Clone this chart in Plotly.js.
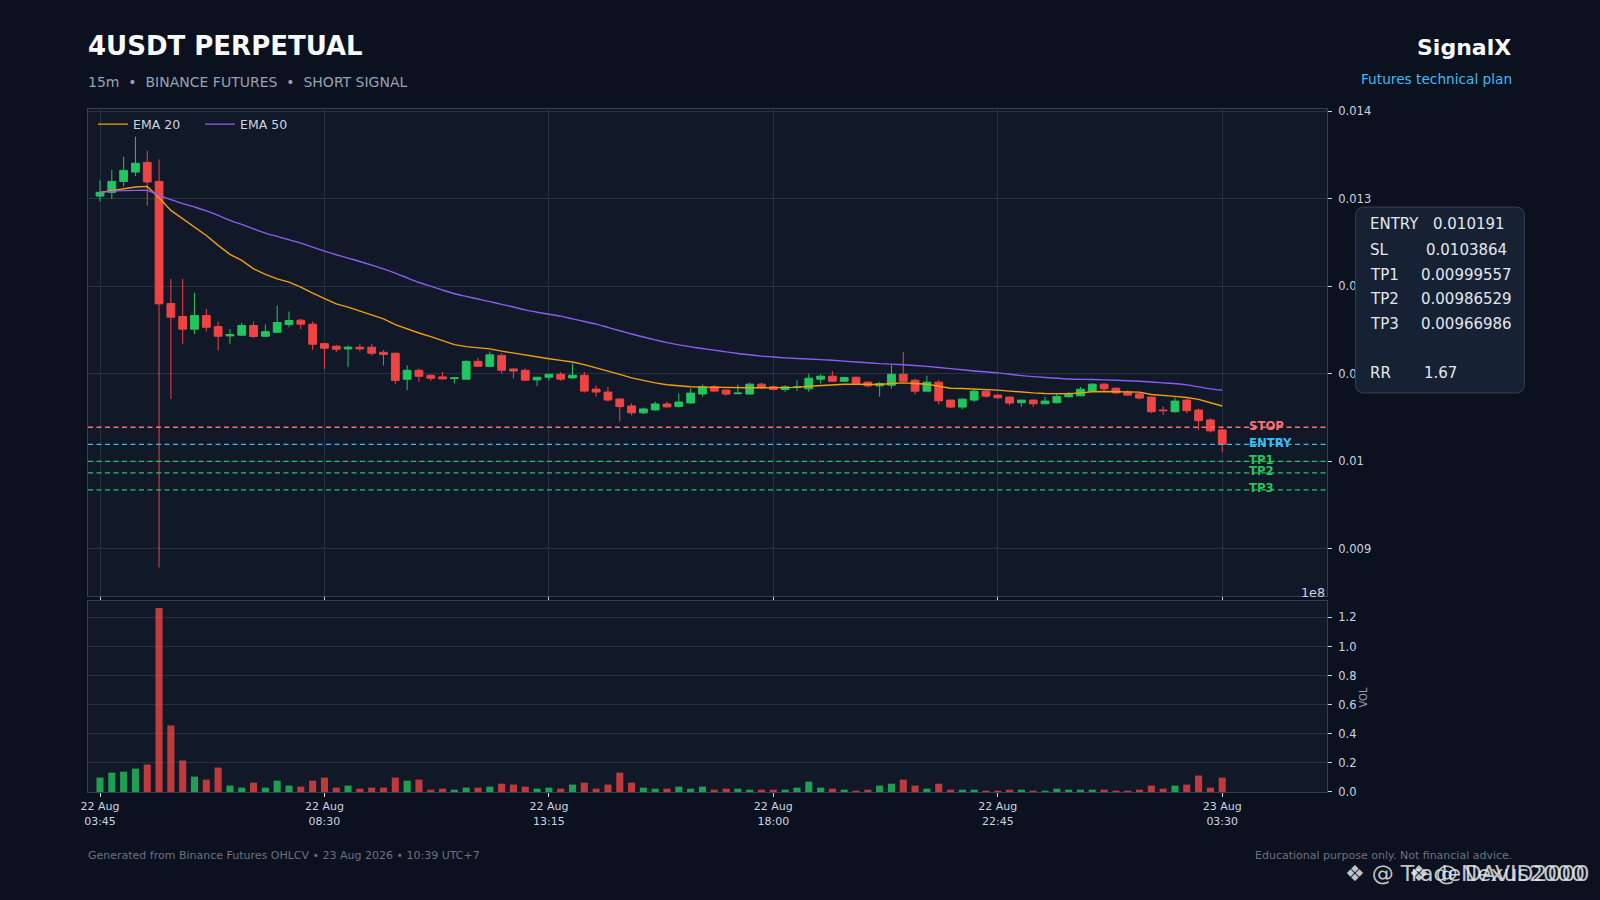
<!DOCTYPE html>
<html>
<head>
<meta charset="utf-8">
<script src="https://cdn.plot.ly/plotly-3.0.1.min.js"></script>
<style>
  html, body { margin: 0; padding: 0; background: #0b111e; }
  #chart { width: 1600px; height: 900px; }
</style>
</head>
<body>
<div id="chart"></div>
<script>
// 15m candles, 22 Aug 03:45 -> 23 Aug 03:30
const startTime = Date.UTC(2026, 7, 22, 3, 45);

const openPrice = [
  0.01303, 0.013073, 0.013198, 0.013305, 0.013416, 0.013198, 0.011802, 0.011653, 0.011508, 0.011664,
  0.011538, 0.011431, 0.011439, 0.01155, 0.011427, 0.011473, 0.011561, 0.011611, 0.011565, 0.011343,
  0.011313, 0.011282, 0.011302, 0.011302, 0.011244, 0.011233, 0.010936, 0.011038, 0.010981, 0.010962,
  0.010943, 0.010936, 0.01114, 0.011083, 0.011208, 0.011053, 0.011038, 0.010928, 0.010958, 0.010992,
  0.010951, 0.010981, 0.010823, 0.010789, 0.010709, 0.01063, 0.010551, 0.010585, 0.010653, 0.010623,
  0.010664, 0.010766, 0.010849, 0.010811, 0.01077, 0.010766, 0.010879, 0.010849, 0.010819, 0.010845,
  0.010826, 0.010936, 0.01097, 0.010913, 0.010958, 0.010902, 0.01086, 0.010867, 0.010992, 0.010924,
  0.010799, 0.010902, 0.010697, 0.010617, 0.010697, 0.010799, 0.010754, 0.010731, 0.010667, 0.010697,
  0.010655, 0.010667, 0.010735, 0.010746, 0.010799, 0.010879, 0.010833, 0.010788, 0.010769, 0.010731,
  0.010583, 0.010564, 0.010697, 0.010583, 0.01047, 0.010356
];
const highPrice = [
  0.01321, 0.01333, 0.01348, 0.01371, 0.01355, 0.01345, 0.012084, 0.012084, 0.011924, 0.01174,
  0.011595, 0.011508, 0.01158, 0.011595, 0.011561, 0.011779, 0.01171, 0.011625, 0.011595, 0.01135,
  0.011328, 0.011321, 0.01134, 0.01134, 0.01127, 0.011244, 0.011094, 0.011057, 0.010992, 0.011019,
  0.010947, 0.011151, 0.011181, 0.011253, 0.011234, 0.011057, 0.011057, 0.010947, 0.010996, 0.011019,
  0.011113, 0.011019, 0.01086, 0.010849, 0.010717, 0.01066, 0.010611, 0.010679, 0.010679, 0.010774,
  0.01083, 0.010875, 0.010868, 0.010823, 0.010875, 0.010898, 0.010898, 0.010868, 0.010868, 0.010924,
  0.011, 0.010992, 0.011027, 0.010962, 0.010966, 0.010913, 0.010905, 0.011102, 0.011246, 0.010943,
  0.010977, 0.010924, 0.010701, 0.010712, 0.010822, 0.010822, 0.010765, 0.010742, 0.010697, 0.010705,
  0.010735, 0.010765, 0.010788, 0.010848, 0.01089, 0.010894, 0.010841, 0.010811, 0.01078, 0.010739,
  0.010625, 0.010727, 0.010712, 0.010602, 0.010489, 0.01037
];
const lowPrice = [
  0.01297, 0.013, 0.01314, 0.01326, 0.01292, 0.008782, 0.01071, 0.01134, 0.011454, 0.01148,
  0.011263, 0.01134, 0.011427, 0.011408, 0.01142, 0.011466, 0.01153, 0.011508, 0.01127, 0.011053,
  0.011244, 0.011073, 0.011256, 0.011206, 0.011092, 0.010882, 0.010811, 0.010906, 0.010917, 0.010932,
  0.010887, 0.010936, 0.011075, 0.011083, 0.011, 0.010943, 0.010917, 0.010857, 0.010921, 0.010917,
  0.010943, 0.010781, 0.010736, 0.010679, 0.010453, 0.010521, 0.010536, 0.010577, 0.010615, 0.010615,
  0.010657, 0.010736, 0.010785, 0.010747, 0.010766, 0.010758, 0.010826, 0.010811, 0.010792, 0.010803,
  0.010792, 0.010886, 0.010913, 0.010905, 0.010886, 0.010841, 0.010735, 0.010829, 0.01091, 0.010761,
  0.010799, 0.010648, 0.010609, 0.010591, 0.010674, 0.010723, 0.010712, 0.010636, 0.010621, 0.010617,
  0.010652, 0.010659, 0.010727, 0.010742, 0.010795, 0.010803, 0.010765, 0.010746, 0.010705, 0.010545,
  0.010527, 0.010553, 0.010545, 0.010356, 0.010326, 0.010103
];
const closePrice = [
  0.013073, 0.013198, 0.013324, 0.013405, 0.013191, 0.011798, 0.011645, 0.011508, 0.011664, 0.01153,
  0.011427, 0.011447, 0.01155, 0.011424, 0.01148, 0.011584, 0.011607, 0.011565, 0.011336, 0.01129,
  0.011279, 0.011302, 0.011282, 0.011233, 0.011218, 0.01092, 0.011038, 0.01097, 0.010947, 0.01094,
  0.010951, 0.01114, 0.011083, 0.011215, 0.011038, 0.01103, 0.010925, 0.010958, 0.010992, 0.010936,
  0.010981, 0.0108, 0.010789, 0.010698, 0.010623, 0.010551, 0.010596, 0.010653, 0.010619, 0.010675,
  0.010777, 0.010849, 0.0108, 0.010766, 0.010777, 0.010879, 0.010838, 0.010819, 0.010849, 0.010848,
  0.010947, 0.01097, 0.010913, 0.010955, 0.01089, 0.01086, 0.010886, 0.010992, 0.010913, 0.010799,
  0.010902, 0.010689, 0.010617, 0.010708, 0.010799, 0.010742, 0.010723, 0.010663, 0.010697, 0.010655,
  0.010686, 0.010739, 0.010758, 0.010822, 0.010879, 0.010826, 0.01078, 0.010754, 0.01072, 0.010564,
  0.010576, 0.010686, 0.010576, 0.010462, 0.010345, 0.010191
];
const volume = [
  9.9e6, 13.3e6, 14.0e6, 16.1e6, 18.9e6, 126.4e6, 45.7e6, 21.6e6, 10.6e6, 8.5e6,
  16.8e6, 4.4e6, 3.0e6, 6.4e6, 3.0e6, 7.8e6, 4.4e6, 3.7e6, 7.8e6, 9.9e6,
  3.0e6, 4.4e6, 2.3e6, 3.0e6, 3.0e6, 9.9e6, 7.8e6, 8.5e6, 1.6e6, 2.3e6,
  1.6e6, 3.0e6, 3.0e6, 3.7e6, 5.7e6, 5.1e6, 3.7e6, 2.3e6, 3.0e6, 2.3e6,
  5.1e6, 6.4e6, 2.3e6, 5.1e6, 13.3e6, 6.4e6, 3.0e6, 2.3e6, 2.3e6, 3.7e6,
  2.3e6, 3.7e6, 1.6e6, 2.3e6, 2.3e6, 1.6e6, 1.6e6, 1.6e6, 1.6e6, 3.0e6,
  7.1e6, 3.0e6, 2.3e6, 1.6e6, 0.9e6, 1.6e6, 4.4e6, 5.7e6, 8.5e6, 4.4e6,
  2.3e6, 5.7e6, 1.6e6, 1.6e6, 1.6e6, 0.9e6, 0.9e6, 1.6e6, 1.6e6, 0.9e6,
  0.9e6, 2.3e6, 1.6e6, 1.6e6, 1.6e6, 1.6e6, 0.9e6, 0.9e6, 1.6e6, 4.4e6,
  2.3e6, 4.4e6, 5.1e6, 11.3e6, 3.0e6, 9.9e6
];
const ema20 = [
  0.013073, 0.013092, 0.013115, 0.013134, 0.013141, 0.01301, 0.012866, 0.012771, 0.012676, 0.01258,
  0.012466, 0.012363, 0.012294, 0.012198, 0.012134, 0.012084, 0.012046, 0.011989, 0.01192, 0.011855,
  0.011798, 0.01176, 0.011714, 0.011676, 0.011626, 0.011561, 0.011508, 0.011464, 0.011423, 0.011377,
  0.011332, 0.011309, 0.011294, 0.011283, 0.011257, 0.011234, 0.011208, 0.011185, 0.01117, 0.011151,
  0.011132, 0.011102, 0.011068, 0.01103, 0.010992, 0.010951, 0.01092, 0.010894, 0.010872, 0.010857,
  0.010849, 0.010845, 0.010842, 0.010838, 0.010838, 0.010838, 0.010838, 0.010838, 0.010838, 0.010843,
  0.010856, 0.010864, 0.010871, 0.010879, 0.010879, 0.010879, 0.010875, 0.010886, 0.010894, 0.010886,
  0.010879, 0.010856, 0.010833, 0.01083, 0.010826, 0.010818, 0.010811, 0.0108, 0.010788, 0.01078,
  0.010773, 0.010769, 0.010769, 0.01078, 0.010792, 0.010795, 0.010795, 0.010792, 0.010788, 0.010761,
  0.010746, 0.010739, 0.010727, 0.010705, 0.010667, 0.010629
];
// EMA 50 read at these bar numbers
const ema50Bar = [
  0, 1, 2, 3, 4, 5, 6, 7, 8, 9, 10, 11, 12, 13, 14, 15, 16, 17, 18, 19,
  20, 21, 22, 23, 24, 25, 26, 27, 28, 29, 30, 31, 32, 33, 34, 35, 36, 37, 38, 39,
  40, 41, 42, 43, 44, 45, 46, 47, 48, 49, 50, 51, 52, 53, 54, 55, 56, 57, 58,
  60, 62, 64, 66, 68, 70, 72, 74, 76, 78, 80, 82, 84, 86, 88, 90, 92, 94, 95
];
const ema50 = [
  0.013073, 0.013084, 0.013092, 0.013095, 0.013095, 0.013038, 0.012989, 0.012943, 0.012905, 0.01286,
  0.01281, 0.012753, 0.012706, 0.012656, 0.012607, 0.012569, 0.012531, 0.012492, 0.012447, 0.012401,
  0.012359, 0.012321, 0.012282, 0.012241, 0.012198, 0.012149, 0.012095, 0.012042, 0.012, 0.011955,
  0.011913, 0.011883, 0.011853, 0.011823, 0.011792, 0.011762, 0.011728, 0.011702, 0.011679, 0.011657,
  0.011626, 0.011596, 0.011566, 0.011528, 0.01149, 0.011453, 0.011419, 0.011385, 0.011355, 0.011328,
  0.011306, 0.011287, 0.011268, 0.011249, 0.01123, 0.011215, 0.0112, 0.011189, 0.01118,
  0.011167, 0.011152, 0.011133, 0.011114, 0.011102, 0.011083, 0.011057, 0.01103, 0.011008, 0.010977,
  0.010955, 0.010939, 0.010932, 0.010924, 0.010913, 0.010894, 0.010871, 0.010826, 0.010811
];

// trade plan
const levelNames = ["STOP", "ENTRY", "TP1", "TP2", "TP3"];
const levelValues = [0.0103864, 0.010191, 0.00999557, 0.00986529, 0.00966986];
const levelColors = ["#f87171", "#38bdf8", "#22c55e", "#22c55e", "#22c55e"];
const planLabels = ["ENTRY", "SL", "TP1", "TP2", "TP3", "RR"];
const planValues = ["0.010191", "0.0103864", "0.00999557", "0.00986529", "0.00966986", "1.67"];

const tickTimes = ["2026-08-22 03:45", "2026-08-22 08:30", "2026-08-22 13:15",
                   "2026-08-22 18:00", "2026-08-22 22:45", "2026-08-23 03:30"];
const tickLabels = ["22 Aug<br>03:45", "22 Aug<br>08:30", "22 Aug<br>13:15",
                    "22 Aug<br>18:00", "22 Aug<br>22:45", "23 Aug<br>03:30"];
const priceTicks = [0.009, 0.010, 0.011, 0.012, 0.013, 0.014];
const priceTickText = ["0.009", "0.01", "0.011", "0.012", "0.013", "0.014"];
const volTicks = [0, 2e7, 4e7, 6e7, 8e7, 1e8, 1.2e8];
const volTickText = ["0.0", "0.2", "0.4", "0.6", "0.8", "1.0", "1.2"];

const GREEN = "#22c55e";
const RED = "#ef4444";
const GRID = "#263243";
const SPINE = "#334155";
const LABEL = "#cbd5e1";
const FONT = "DejaVu Sans";

function barTime(i) {
  const t = new Date(startTime + i * 15 * 60000);
  return t.toISOString().slice(0, 19).replace("T", " ");
}
const times = closePrice.map((c, i) => barTime(i));

// pixel -> paper helpers (plot area 88..1327.5 x 108.5..792)
const L = 88, R = 1327.5, T = 108.5, B = 792;
const px = x => (x - L) / (R - L);
const py = y => (B - y) / (B - T);

const candles = {
  type: "candlestick",
  x: times, open: openPrice, high: highPrice, low: lowPrice, close: closePrice,
  increasing: { line: { color: GREEN, width: 1 }, fillcolor: GREEN },
  decreasing: { line: { color: RED, width: 1 }, fillcolor: RED },
  xaxis: "x", yaxis: "y",
  showlegend: false,
  hoverinfo: "skip",
};

const emaFast = {
  type: "scatter", mode: "lines", name: "EMA 20",
  x: times, y: ema20,
  line: { color: "#f59e0b", width: 1.4 },
  xaxis: "x", yaxis: "y",
};

const emaSlow = {
  type: "scatter", mode: "lines", name: "EMA 50",
  x: ema50Bar.map(barTime), y: ema50,
  line: { color: "#8b5cf6", width: 1.4, shape: "spline", smoothing: 0.6 },
  xaxis: "x", yaxis: "y",
};

const volBars = {
  type: "bar",
  x: times, y: volume,
  marker: {
    color: closePrice.map((c, i) => c >= openPrice[i] ? "rgba(34,197,94,0.78)" : "rgba(239,68,68,0.78)"),
    line: { width: 0 },
  },
  xaxis: "x2", yaxis: "y2",
  showlegend: false,
  hoverinfo: "skip",
};

const shapes = levelValues.map((v, k) => ({
  type: "line", xref: "paper", yref: "y",
  x0: 0, x1: 1, y0: v, y1: v,
  line: { color: levelColors[k], width: 1.3, dash: "5px,3.5px" },
  layer: "above",
}));

// rounded info box, sized in pixels
const bw = 84.5, bh = 93, r = 9;
shapes.push({
  type: "path", xref: "paper", yref: "paper",
  xsizemode: "pixel", ysizemode: "pixel",
  xanchor: px(1440.5), yanchor: py(299.7),
  path: `M ${-bw + r},${-bh} L ${bw - r},${-bh} Q ${bw},${-bh} ${bw},${-bh + r} ` +
        `L ${bw},${bh - r} Q ${bw},${bh} ${bw - r},${bh} L ${-bw + r},${bh} ` +
        `Q ${-bw},${bh} ${-bw},${bh - r} L ${-bw},${-bh + r} Q ${-bw},${-bh} ${-bw + r},${-bh} Z`,
  fillcolor: "#172134",
  line: { color: "#334155", width: 1 },
  layer: "above",
});

const annotations = [];
function note(text, x, y, opts) {
  annotations.push(Object.assign({
    text: text, xref: "paper", yref: "paper", x: px(x), y: py(y),
    xanchor: "left", yanchor: "middle", showarrow: false,
    font: { family: FONT, size: 12, color: LABEL },
  }, opts));
}

note("<b>4USDT PERPETUAL</b>", 86, 45.5, { font: { family: FONT, size: 26, color: "#f8fafc" } });
note("15m\u00a0\u00a0•\u00a0\u00a0BINANCE FUTURES\u00a0\u00a0•\u00a0\u00a0SHORT SIGNAL", 86, 81.3,
     { font: { family: FONT, size: 14, color: "#94a3b8" } });
note("<b>SignalX</b>", 1514, 46.5, { xanchor: "right", font: { family: FONT, size: 22, color: "#f8fafc" } });
note("Futures technical plan", 1514.5, 78.3, { xanchor: "right", font: { family: FONT, size: 13.7, color: "#38bdf8" } });
note("Generated from Binance Futures OHLCV • 23 Aug 2026 • 10:39 UTC+7", 86, 856,
     { font: { family: FONT, size: 11, color: "#6b7280" } });
note("Educational purpose only. Not financial advice.", 1515, 856,
     { xanchor: "right", font: { family: FONT, size: 11, color: "#6b7280" } });
// two stacked watermarks, overlapping as in the source image
note("❖ @ TradeNexus2000", 1344, 873.3, { font: { family: FONT, size: 22, color: "rgba(229,231,235,0.85)" } });
note("❖ @ DAVID2000", 1408, 873.3, { font: { family: FONT, size: 22, color: "rgba(229,231,235,0.85)" } });
note("1e8", 1327, 592.5, { xanchor: "right", font: { family: FONT, size: 12.7, color: LABEL } });
note("VOL", 1364, 697, { xanchor: "center", textangle: -90, font: { family: FONT, size: 10, color: "#94a3b8" } });

// plan box text
const planRows = [223.7, 249.3, 274.3, 298.3, 323.3, 372.3];
const planValueX = [1431.5, 1425, 1420, 1420, 1420, 1423];
planLabels.forEach((lab, k) => {
  note(lab, 1368.3, planRows[k], { font: { family: FONT, size: 15, color: "#e2e8f0" } });
  note(planValues[k], planValueX[k], planRows[k], { font: { family: FONT, size: 15, color: "#e2e8f0" } });
});

// level tags at the right end
levelNames.forEach((name, k) => {
  annotations.push({
    text: "<b>" + name + "</b>", xref: "paper", yref: "y",
    x: px(1247.5), y: levelValues[k], yshift: 1.5,
    xanchor: "left", yanchor: "middle", showarrow: false,
    font: { family: FONT, size: 11.7, color: levelColors[k] },
  });
});

const xRange = [barTime(-1.015), barTime(103.87)];

const layout = {
  width: 1600, height: 900,
  paper_bgcolor: "#0b111e",
  plot_bgcolor: "#111827",
  margin: { l: L, r: 1600 - R, t: T, b: 900 - B, pad: 0 },
  font: { family: FONT, color: LABEL },
  showlegend: true,
  legend: {
    orientation: "h", x: px(93), y: py(109), xanchor: "left", yanchor: "top",
    entrywidth: 62, entrywidthmode: "pixels",
    bgcolor: "rgba(0,0,0,0)", font: { family: FONT, size: 12.5, color: LABEL },
  },
  bargap: 0.4,
  boxgap: 0.34,
  boxgroupgap: 0,
  hovermode: false,
  xaxis: {
    type: "date", range: xRange, anchor: "y",
    tickmode: "array", tickvals: tickTimes, ticktext: tickLabels,
    showticklabels: false, ticks: "outside", ticklen: 4, tickcolor: LABEL,
    showgrid: true, gridcolor: GRID, gridwidth: 1,
    showline: true, mirror: true, linecolor: SPINE, linewidth: 1,
    zeroline: false,
    rangeslider: { visible: false },
  },
  xaxis2: {
    type: "date", range: xRange, anchor: "y2", matches: "x",
    tickmode: "array", tickvals: tickTimes, ticktext: tickLabels,
    tickfont: { family: FONT, size: 11, color: LABEL },
    ticks: "outside", ticklen: 4, tickcolor: LABEL,
    showgrid: false,
    showline: true, mirror: true, linecolor: SPINE, linewidth: 1,
    zeroline: false,
    rangeslider: { visible: false },
  },
  yaxis: {
    domain: [py(596), 1], side: "right", range: [0.008455, 0.014026],
    tickmode: "array", tickvals: priceTicks, ticktext: priceTickText,
    tickfont: { family: FONT, size: 11.5, color: LABEL },
    ticks: "outside", ticklen: 4, tickcolor: LABEL, ticklabelstandoff: 4,
    showgrid: true, gridcolor: GRID, gridwidth: 1,
    showline: true, mirror: true, linecolor: SPINE, linewidth: 1,
    zeroline: false,
  },
  yaxis2: {
    domain: [0, py(601)], side: "right", range: [0, 1.312e8],
    tickmode: "array", tickvals: volTicks, ticktext: volTickText,
    tickfont: { family: FONT, size: 11.5, color: LABEL },
    ticks: "outside", ticklen: 4, tickcolor: LABEL, ticklabelstandoff: 4,
    showgrid: true, gridcolor: GRID, gridwidth: 1,
    showline: true, mirror: true, linecolor: SPINE, linewidth: 1,
    zeroline: false,
  },
  shapes: shapes,
  annotations: annotations,
};

Plotly.newPlot("chart", [candles, emaFast, emaSlow, volBars], layout, { displayModeBar: false, staticPlot: true });
</script>
</body>
</html>
